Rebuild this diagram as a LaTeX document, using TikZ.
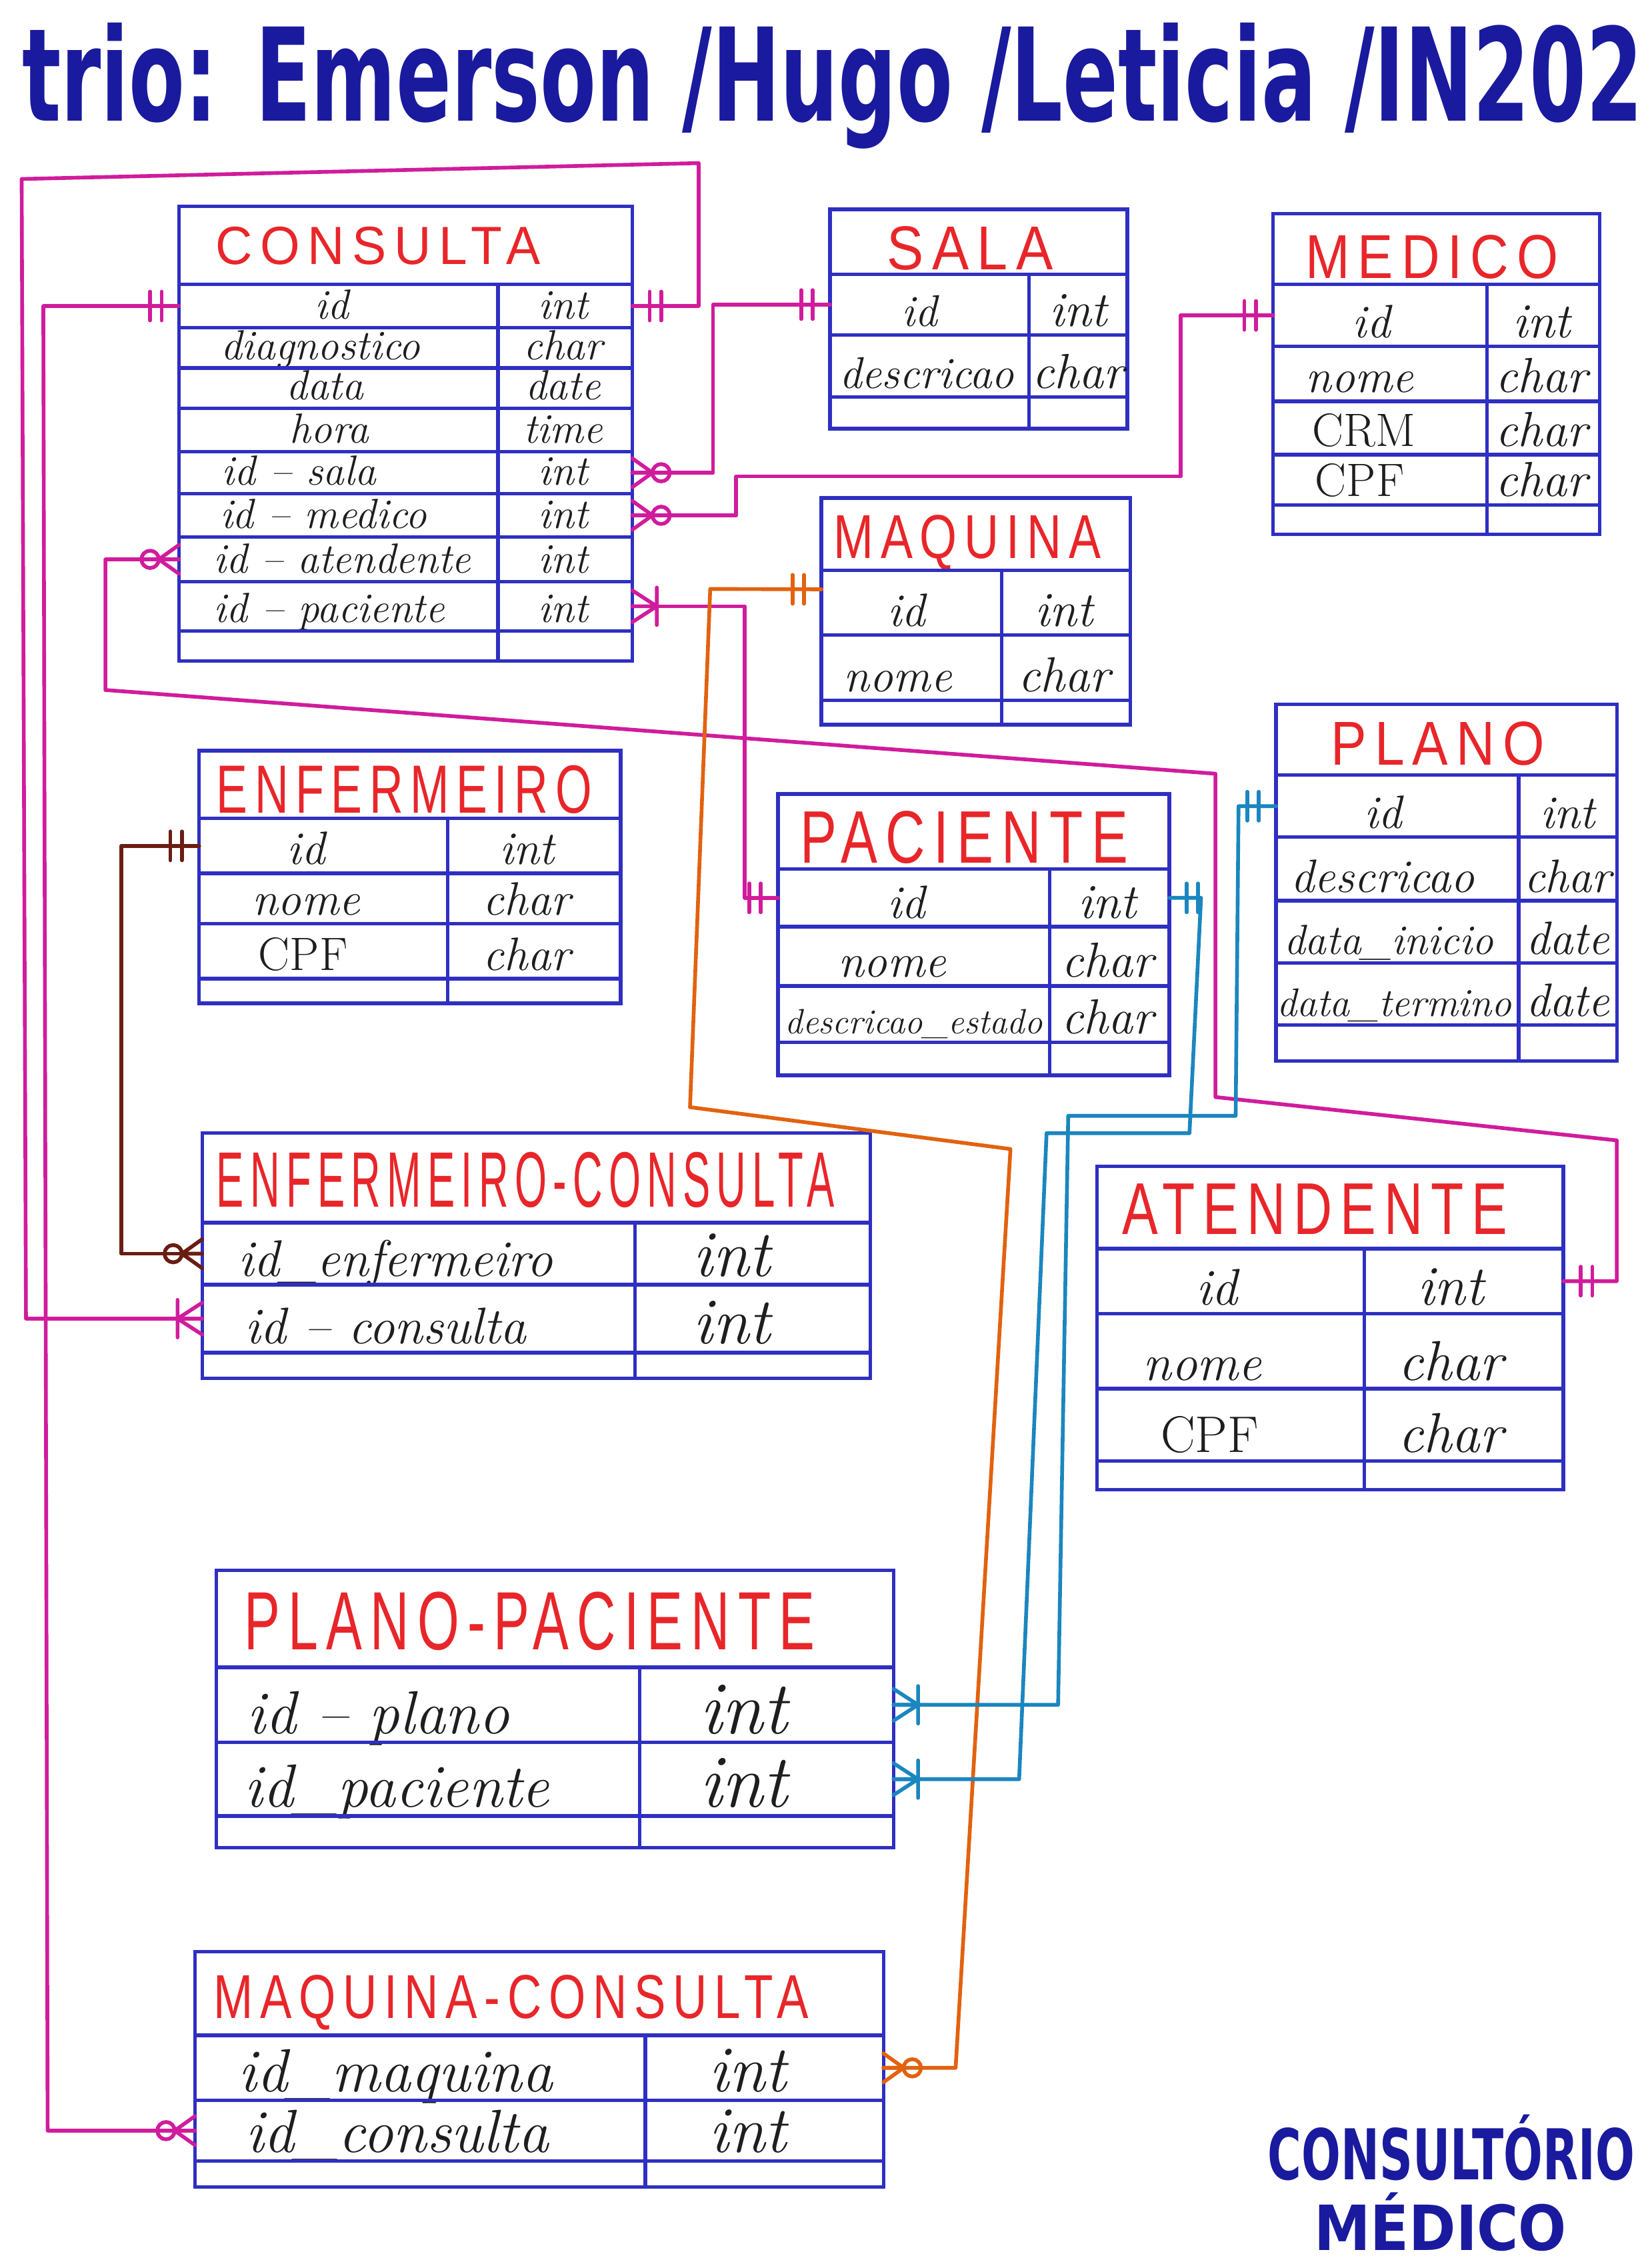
\documentclass[tikz,border=0pt]{standalone}
\usepackage{fontspec}
\usepackage{graphicx}
\usetikzlibrary{fit}
\newfontfamily\ttlfont[LetterSpace=15]{Liberation Sans}
\newfontfamily\hdrfont{DejaVu Sans}
\definecolor{tblblue}{HTML}{2F2FC2}
\definecolor{ttlred}{HTML}{E8262A}
\definecolor{ink}{HTML}{1E1E1E}
\definecolor{hdrblue}{HTML}{1A1A9E}
\definecolor{magc}{HTML}{D01C9C}
\definecolor{orgc}{HTML}{E2620F}
\definecolor{tealc}{HTML}{1B86BF}
\definecolor{brnc}{HTML}{6A1D12}
\newlength\ux
\setlength\ux{0.2165mm}
\newcommand\fs[1]{\fontsize{#1}{#1}\selectfont}
\newcommand\Row[9]{%
  \node[cell, fit={(#2,#3) (#4,#5)}] (#1) {};%
  \node[attr, anchor=base] (#1-n) at (#6,{#5-6}) {#7};%
  \node[typ, anchor=base] (#1-t) at (#8,{#5-6}) {#9};%
}
\newcommand\Ttl[6]{%
  \node[ttl, anchor=base] (#1) at (#2,#3) {\resizebox{#4\ux}{#5\ux}{\ttlfont #6}};%
}
\tikzset{
  erone/.pic={\draw (12,-10) -- (12,10) (20,-10) -- (20,10);},
  ermanybar/.pic={\draw (0,-11) -- (17,0) -- (0,11) (0,0) -- (17,0) (17,-13) -- (17,13);},
  ermanyo/.pic={\draw (0,-10) -- (14,0) -- (0,10) (0,0) -- (14,0) (20,0) circle[radius=6];},
}
\begin{document}
\begin{tikzpicture}[x=0.2165mm, y=-0.2165mm,
  cell/.style={draw=tblblue, line width=1.5pt, inner sep=0pt, outer sep=0pt, rectangle},
  tbline/.style={draw=tblblue, line width=1.5pt},
  attr/.style={inner sep=0pt, text=ink, font=\fs{20}\itshape},
  typ/.style={inner sep=0pt, text=ink, font=\fs{21}\itshape},
  ttl/.style={inner sep=0pt, text=ttlred},
  conn/.style={line width=1.6pt, line cap=round, line join=round},
  mag/.style={conn, color=magc},
  org/.style={conn, color=orgc},
  tea/.style={conn, color=tealc},
  brn/.style={conn, color=brnc}]
\fill[white] (0,0) rectangle (1144,1568.4);
\useasboundingbox (0,0) rectangle (1144,1568.4);

% header
\node[anchor=base west, inner sep=0pt, text=hdrblue] (header) at (15,84)
  {\resizebox{1123\ux}{68\ux}{\hdrfont\bfseries trio: Emerson /Hugo /Leticia /IN202}};

% CONSULTA
\begin{scope}[attr/.append style={font=\fs{18}\itshape}, typ/.append style={font=\fs{18}\itshape}]
\node[cell, fit={(124,143) (438,197)}] (consulta) {};
\Ttl{consulta-title}{262}{183}{225}{26}{CONSULTA}
\Row{consulta-id}{124}{197}{438}{227}{230}{id}{390}{int}
\Row{consulta-diag}{124}{227}{438}{255}{222}{diagnostico}{390}{char}
\Row{consulta-data}{124}{255}{438}{283}{225}{data}{390}{date}
\Row{consulta-hora}{124}{283}{438}{313}{228}{hora}{390}{time}
\Row{consulta-idsala}{124}{313}{438}{342}{207}{id – sala}{390}{int}
\Row{consulta-idmedico}{124}{342}{438}{372}{224}{id – medico}{390}{int}
\Row{consulta-idatend}{124}{372}{438}{403}{237}{id – atendente}{390}{int}
\Row{consulta-idpac}{124}{403}{438}{437}{228}{id – paciente}{390}{int}
\node[cell, fit={(124,437) (438,458)}] (consulta-end) {};
\draw[tbline] (345,197) -- (345,458);
\end{scope}

% SALA
\begin{scope}[attr/.append style={font=\fs{19}\itshape}]
\node[cell, fit={(575,145) (781,190)}] (sala) {};
\Ttl{sala-title}{672}{187}{115}{30}{SALA}
\Row{sala-id}{575}{190}{781}{232}{637}{id}{747}{int}
\Row{sala-desc}{575}{232}{781}{275}{642}{descricao}{747}{char}
\node[cell, fit={(575,275) (781,297)}] (sala-end) {};
\draw[tbline] (713,190) -- (713,297);
\end{scope}

% MEDICO
\node[cell, fit={(882,148) (1108,197)}] (medico) {};
\Ttl{medico-title}{992}{193}{175}{30}{MEDICO}
\Row{medico-id}{882}{197}{1108}{240}{950}{id}{1068}{int}
\Row{medico-nome}{882}{240}{1108}{278}{942}{nome}{1068}{char}
\Row{medico-crm}{882}{278}{1108}{315}{945}{\upshape CRM}{1068}{char}
\Row{medico-cpf}{882}{315}{1108}{350}{942}{\upshape CPF}{1068}{char}
\node[cell, fit={(882,350) (1108,370)}] (medico-end) {};
\draw[tbline] (1030,197) -- (1030,370);

% MAQUINA
\node[cell, fit={(569,345) (783,395)}] (maquina) {};
\Ttl{maquina-title}{670}{387}{185}{30}{MAQUINA}
\Row{maquina-id}{569}{395}{783}{440}{628}{id}{737}{int}
\Row{maquina-nome}{569}{440}{783}{485}{622}{nome}{737}{char}
\node[cell, fit={(569,485) (783,502)}] (maquina-end) {};
\draw[tbline] (694,395) -- (694,502);

% PLANO
\begin{scope}[typ/.append style={font=\fs{20}\itshape}]
\node[cell, fit={(884,488) (1120,537)}] (plano) {};
\Ttl{plano-title}{996}{530}{148}{30}{PLANO}
\Row{plano-id}{884}{537}{1120}{580}{958}{id}{1086}{int}
\Row{plano-desc}{884}{580}{1120}{624}{958}{descricao}{1086}{char}
\Row{plano-ini}{884}{624}{1120}{667}{962}{{\fs{18}data\_inicio}}{1086}{date}
\Row{plano-ter}{884}{667}{1120}{710}{966}{{\fs{17}data\_termino}}{1086}{date}
\node[cell, fit={(884,710) (1120,735)}] (plano-end) {};
\draw[tbline] (1052,537) -- (1052,735);
\end{scope}

% ENFERMEIRO
\begin{scope}[typ/.append style={font=\fs{20}\itshape}]
\node[cell, fit={(138,520) (430,567)}] (enfermeiro) {};
\Ttl{enfermeiro-title}{280}{563}{260}{33}{ENFERMEIRO}
\Row{enfermeiro-id}{138}{567}{430}{605}{212}{id}{365}{int}
\Row{enfermeiro-nome}{138}{605}{430}{640}{212}{nome}{365}{char}
\Row{enfermeiro-cpf}{138}{640}{430}{678}{210}{\upshape CPF}{365}{char}
\node[cell, fit={(138,678) (430,695)}] (enfermeiro-end) {};
\draw[tbline] (310,567) -- (310,695);
\end{scope}

% PACIENTE
\node[cell, fit={(539,550) (810,602)}] (paciente) {};
\Ttl{paciente-title}{668}{598}{227}{36}{PACIENTE}
\Row{paciente-id}{539}{602}{810}{642}{628}{id}{767}{int}
\Row{paciente-nome}{539}{642}{810}{683}{618}{nome}{767}{char}
\Row{paciente-desc}{539}{683}{810}{722}{633}{{\fs{15}descricao\_estado}}{767}{char}
\node[cell, fit={(539,722) (810,745)}] (paciente-end) {};
\draw[tbline] (727,602) -- (727,745);

% ENFERMEIRO-CONSULTA
\begin{scope}[attr/.append style={font=\fs{22}\itshape}, typ/.append style={font=\fs{28}\itshape}]
\node[cell, fit={(140,785) (603,847)}] (enfcons) {};
\Ttl{enfcons-title}{364}{836}{428}{38}{ENFERMEIRO-CONSULTA}
\Row{enfcons-idenf}{140}{847}{603}{890}{274}{id\_enfermeiro}{507}{int}
\Row{enfcons-idcons}{140}{890}{603}{937}{267}{id – consulta}{507}{int}
\node[cell, fit={(140,937) (603,955)}] (enfcons-end) {};
\draw[tbline] (440,847) -- (440,955);
\end{scope}

% ATENDENTE
\begin{scope}[attr/.append style={font=\fs{22}\itshape}, typ/.append style={font=\fs{24}\itshape}]
\node[cell, fit={(760,808) (1083,865)}] (atendente) {};
\Ttl{atendente-title}{911}{855}{267}{35}{ATENDENTE}
\Row{atendente-id}{760}{865}{1083}{910}{843}{id}{1005}{int}
\Row{atendente-nome}{760}{910}{1083}{962}{833}{nome}{1005}{char}
\Row{atendente-cpf}{760}{962}{1083}{1012}{838}{\upshape CPF}{1005}{char}
\node[cell, fit={(760,1012) (1083,1032)}] (atendente-end) {};
\draw[tbline] (945,865) -- (945,1032);
\end{scope}

% PLANO-PACIENTE
\begin{scope}[attr/.append style={font=\fs{26}\itshape}, typ/.append style={font=\fs{32}\itshape}]
\node[cell, fit={(150,1088) (619,1155)}] (planopac) {};
\Ttl{planopac-title}{367}{1143}{395}{40}{PLANO-PACIENTE}
\Row{planopac-idplano}{150}{1155}{619}{1207}{262}{id – plano}{515}{int}
\Row{planopac-idpac}{150}{1207}{619}{1258}{275}{id\_paciente}{515}{int}
\node[cell, fit={(150,1258) (619,1280)}] (planopac-end) {};
\draw[tbline] (443,1155) -- (443,1280);
\end{scope}

% MAQUINA-CONSULTA
\begin{scope}[attr/.append style={font=\fs{26}\itshape}, typ/.append style={font=\fs{28}\itshape}]
\node[cell, fit={(135,1352) (612,1410)}] (maqcons) {};
\Ttl{maqcons-title}{354}{1398}{412}{30}{MAQUINA-CONSULTA}
\Row{maqcons-idmaq}{135}{1410}{612}{1455}{274}{id\_maquina}{518}{int}
\Row{maqcons-idcons}{135}{1455}{612}{1497}{275}{id\_consulta}{518}{int}
\node[cell, fit={(135,1497) (612,1515)}] (maqcons-end) {};
\draw[tbline] (447,1410) -- (447,1515);
\end{scope}

% footer
\node[anchor=base west, inner sep=0pt, text=hdrblue] (footer-a) at (878,1510)
  {\resizebox{254\ux}{45\ux}{\hdrfont\bfseries CONSULTÓRIO}};
\node[anchor=base west, inner sep=0pt, text=hdrblue] (footer-b) at (910,1559)
  {\resizebox{175\ux}{40\ux}{\hdrfont\bfseries MÉDICO}};

% ---------- connectors ----------
% CONSULTA.id -> ENFERMEIRO-CONSULTA.id_consulta
\draw[mag] (consulta-id.east) -- (484,212) -- (484,113) -- (15,124) -- (18,913.5) -- (enfcons-idcons.west);
\pic[mag] at (consulta-id.east) {erone};
\pic[mag, rotate=180] at (enfcons-idcons.west) {ermanybar};

% CONSULTA.id -> MAQUINA-CONSULTA.id_consulta
\draw[mag] (consulta-id.west) -- (30,212) -- (33,1476) -- (maqcons-idcons.west);
\pic[mag, rotate=180] at (consulta-id.west) {erone};
\pic[mag, rotate=180] at (maqcons-idcons.west) {ermanyo};

% SALA.id -> CONSULTA.id_sala
\draw[mag] (sala-id.west) -| (494,270) |- (consulta-idsala.east);
\pic[mag, rotate=180] at (sala-id.west) {erone};
\pic[mag] at (consulta-idsala.east) {ermanyo};

% MEDICO.id -> CONSULTA.id_medico
\draw[mag] (medico-id.west) -| (818,330) -| (510,357) -- (consulta-idmedico.east);
\pic[mag, rotate=180] at (medico-id.west) {erone};
\pic[mag] at (consulta-idmedico.east) {ermanyo};

% ATENDENTE.id -> CONSULTA.id_atendente
\draw[mag] (consulta-idatend.west) -- (73,387.5) -- (73,478) -- (842,536) -- (842,760) -- (1120,790) -- (1120,887.5) -- (atendente-id.east);
\pic[mag, rotate=180] at (consulta-idatend.west) {ermanyo};
\pic[mag] at (atendente-id.east) {erone};

% PACIENTE.id -> CONSULTA.id_paciente
\draw[mag] (consulta-idpac.east) -| (516,520) |- (paciente-id.west);
\pic[mag] at (consulta-idpac.east) {ermanybar};
\pic[mag, rotate=180] at (paciente-id.west) {erone};

% MAQUINA.id -> MAQUINA-CONSULTA.id_maquina
\coordinate (maq-out) at ([yshift=2mm]maquina-id.west);
\draw[org] (maq-out) -- (492,408) -- (478,767) -- (700,796) -- (662,1432.5) -- (maqcons-idmaq.east);
\pic[org, rotate=180] at (maq-out) {erone};
\pic[org] at (maqcons-idmaq.east) {ermanyo};

% ENFERMEIRO.id -> ENFERMEIRO-CONSULTA.id_enfermeiro
\draw[brn] (enfermeiro-id.west) -| (84,700) |- (enfcons-idenf.west);
\pic[brn, rotate=180] at (enfermeiro-id.west) {erone};
\pic[brn, rotate=180] at (enfcons-idenf.west) {ermanyo};

% PLANO.id -> PLANO-PACIENTE.id_plano
\draw[tea] (plano-id.west) -- (858,558.5) -- (856,773) -- (740,773) -- (733,1181) -- (planopac-idplano.east);
\pic[tea, rotate=180] at (plano-id.west) {erone};
\pic[tea] at (planopac-idplano.east) {ermanybar};

% PACIENTE.id -> PLANO-PACIENTE.id_paciente
\draw[tea] (paciente-id.east) -- (832,622) -- (824,785) -- (725,785) -- (706,1232.5) -- (planopac-idpac.east);
\pic[tea] at (paciente-id.east) {erone};
\pic[tea] at (planopac-idpac.east) {ermanybar};
\end{tikzpicture}
\end{document}
